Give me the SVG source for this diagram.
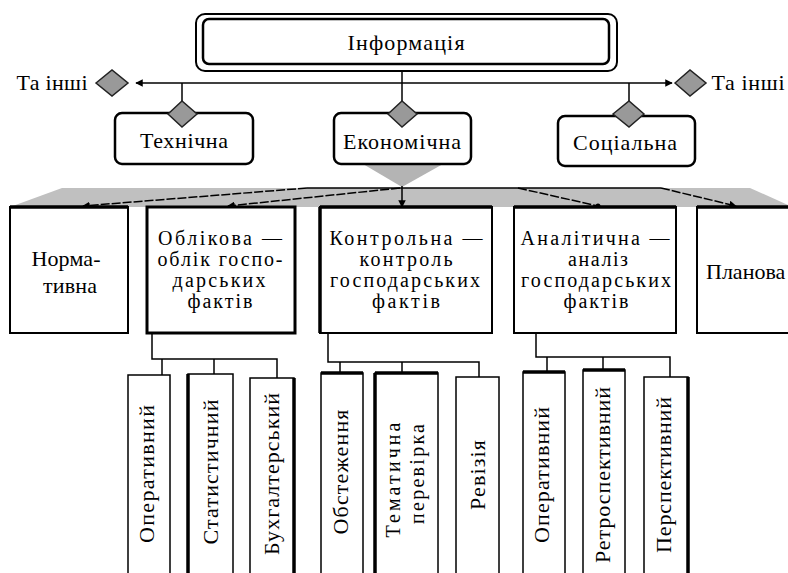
<svg xmlns="http://www.w3.org/2000/svg" width="788" height="573" viewBox="0 0 788 573">
<style>
text{font-family:"Liberation Serif","Times New Roman",serif;font-size:22px;fill:#000;text-anchor:middle;dominant-baseline:central}
text.m{font-size:20px}
.ln{stroke:#000;stroke-width:1.5;fill:none}
.dash{stroke:#000;stroke-width:1.5;fill:none;stroke-dasharray:9 2}
.dia{fill:#999;stroke:#222;stroke-width:1.5}
.rbox{fill:#fff;stroke:#000;stroke-width:2.5}
.box{fill:#fff;stroke:#000;stroke-width:2}
.sbox{fill:#fff;stroke:#000;stroke-width:1.5}
.thick{stroke:#000;stroke-width:3.5;fill:none}
</style>
<defs>
<marker id="ah" viewBox="0 0 10 10" refX="9" refY="5" markerWidth="5" markerHeight="5" orient="auto-start-reverse">
<path d="M0,0 L10,5 L0,10 z" fill="#000"/>
</marker>
</defs>
<rect width="788" height="573" fill="#fff"/>

<polygon points="10,207 62,188 750,188 788,205 788,207" fill="#c0c0c0"/>
<polygon points="363,164 443,164 402,187" fill="#b4b4b4"/>

<g id="connectors">
<line class="ln" x1="402" y1="71" x2="402" y2="101"/>
<line class="ln" x1="402" y1="83" x2="136" y2="83" marker-end="url(#ah)"/>
<line class="ln" x1="402" y1="83" x2="672" y2="83" marker-end="url(#ah)"/>
<line class="ln" x1="182" y1="83" x2="182" y2="101"/>
<line class="ln" x1="629" y1="83" x2="629" y2="101"/>
<line class="ln" x1="307" y1="188" x2="661" y2="188"/>
<line class="ln" x1="402" y1="186" x2="402" y2="207" marker-end="url(#ah)"/>
<line class="dash" x1="307" y1="188" x2="83" y2="206" marker-end="url(#ah)"/>
<line class="dash" x1="400" y1="188" x2="228" y2="206" marker-end="url(#ah)"/>
<line class="dash" x1="518" y1="188" x2="598" y2="206"/>
<circle cx="598" cy="206" r="2.5" fill="#000"/>
<line class="dash" x1="661" y1="188" x2="736" y2="206" marker-end="url(#ah)"/>
<polyline class="ln" points="152,333 152,359 277,359 277,378"/>
<line class="ln" x1="162" y1="359" x2="162" y2="375"/>
<line class="ln" x1="214" y1="359" x2="214" y2="374"/>
<polyline class="ln" points="328,333 328,362 479,362 479,377"/>
<line class="ln" x1="340" y1="362" x2="340" y2="373"/>
<line class="ln" x1="402" y1="362" x2="402" y2="373"/>
<polyline class="ln" points="536,333 536,357 670,357 670,377"/>
<line class="ln" x1="547" y1="357" x2="547" y2="372"/>
<line class="ln" x1="603" y1="357" x2="603" y2="370"/>
</g>

<g id="info">
<rect x="196" y="14" width="421" height="57" rx="9" fill="#fff" stroke="#000" stroke-width="2"/>
<rect x="203" y="19" width="406" height="45" rx="6" fill="#fff" stroke="#000" stroke-width="2.5"/>
<text x="406" y="42" textLength="117">Інформація</text>
</g>

<g id="other-left">
<polygon class="dia" points="96,83 112,70 128,83 112,96"/>
<text x="52" y="82" textLength="71">Та інші</text>
</g>
<g id="other-right">
<polygon class="dia" points="675,83 690,70 706,83 690,96"/>
<text x="748" y="82" textLength="73">Та інші</text>
</g>

<g id="technical">
<rect class="rbox" x="115" y="113" width="138" height="51" rx="7"/>
<polygon class="dia" points="168,114 182,101 197,114 182,127"/>
<text x="184" y="140" textLength="88">Технічна</text>
</g>
<g id="economic">
<rect class="rbox" x="334" y="113" width="137" height="51" rx="7"/>
<polygon class="dia" points="388,114 402,101 417,114 402,127"/>
<text x="402" y="141" textLength="118">Економічна</text>
</g>
<g id="social">
<rect class="rbox" x="558" y="116" width="137" height="50" rx="7"/>
<polygon class="dia" points="613,114 629,101 644,114 629,127"/>
<text x="625" y="142" textLength="104">Соціальна</text>
</g>

<g id="normative">
<rect class="box" x="10" y="207" width="118" height="126"/>
<line class="thick" x1="10" y1="207" x2="128" y2="207"/>
<text x="66" y="258" textLength="69">Норма-</text>
<text x="70" y="285" textLength="54">тивна</text>
</g>
<g id="accounting">
<rect x="147" y="207" width="148" height="126" fill="#fff" stroke="#000" stroke-width="3"/>
<text class="m" x="220" y="238" textLength="124">Облікова —</text>
<text class="m" x="220" y="259" textLength="125">облік госпо-</text>
<text class="m" x="219" y="280" textLength="93">дарських</text>
<text class="m" x="220" y="301" textLength="65">фактів</text>
</g>
<g id="control">
<rect class="box" x="320" y="207" width="172" height="126"/>
<line class="thick" x1="320" y1="207" x2="492" y2="207"/>
<line class="thick" x1="320" y1="207" x2="320" y2="333"/>
<text class="m" x="406" y="238" textLength="153">Контрольна —</text>
<text class="m" x="406" y="259" textLength="93">контроль</text>
<text class="m" x="405" y="280" textLength="150">господарських</text>
<text class="m" x="406" y="301" textLength="68">фактів</text>
</g>
<g id="analytic">
<rect class="box" x="514" y="207" width="162" height="126"/>
<line class="thick" x1="514" y1="207" x2="676" y2="207"/>
<text class="m" x="595" y="238" textLength="149">Аналітична —</text>
<text class="m" x="598" y="259" textLength="60">аналіз</text>
<text class="m" x="596" y="280" textLength="150">господарських</text>
<text class="m" x="596" y="301" textLength="65">фактів</text>
</g>
<g id="planning">
<rect class="box" x="697" y="207" width="100" height="126"/>
<line class="thick" x1="697" y1="207" x2="790" y2="207"/>
<text x="706" y="271" style="text-anchor:start">Планова</text>
</g>

<g id="operative1">
<rect class="sbox" x="128" y="375" width="42" height="210"/>
<text x="146" y="474" textLength="138" transform="rotate(-90 146 474)">Оперативний</text>
</g>
<g id="statistical">
<rect class="sbox" x="188" y="374" width="45" height="210"/>
<line class="thick" x1="188" y1="374" x2="188" y2="580"/>
<text x="210" y="472" textLength="145" transform="rotate(-90 210 472)">Статистичний</text>
</g>
<g id="bookkeeping">
<rect class="sbox" x="250" y="378" width="44" height="210"/>
<line class="thick" x1="294" y1="378" x2="294" y2="580"/>
<text x="271" y="474" textLength="162" transform="rotate(-90 271 474)">Бухгалтерський</text>
</g>
<g id="survey">
<rect class="sbox" x="321" y="373" width="42" height="210"/>
<line class="thick" x1="321" y1="373" x2="363" y2="373"/>
<text x="340" y="472" textLength="125" transform="rotate(-90 340 472)">Обстеження</text>
</g>
<g id="thematic">
<rect class="sbox" x="375" y="373" width="63" height="210"/>
<line class="thick" x1="375" y1="373" x2="438" y2="373"/>
<line class="thick" x1="375" y1="373" x2="375" y2="580"/>
<text class="m" x="393" y="480" textLength="115" transform="rotate(-90 393 480)">Тематична</text>
<text class="m" x="417" y="474" textLength="100" transform="rotate(-90 417 474)">перевірка</text>
</g>
<g id="revision">
<rect class="sbox" x="456" y="377" width="43" height="210"/>
<text x="477" y="475" textLength="70" transform="rotate(-90 477 475)">Ревізія</text>
</g>
<g id="operative2">
<rect class="sbox" x="523" y="372" width="42" height="210"/>
<line class="thick" x1="523" y1="372" x2="565" y2="372"/>
<text x="541" y="475" textLength="136" transform="rotate(-90 541 475)">Оперативний</text>
</g>
<g id="retrospective">
<rect class="sbox" x="583" y="370" width="42" height="210"/>
<line class="thick" x1="583" y1="370" x2="625" y2="370"/>
<text x="602" y="475" textLength="176" transform="rotate(-90 602 475)">Ретроспективний</text>
</g>
<g id="perspective">
<rect class="sbox" x="644" y="377" width="44" height="210"/>
<line class="thick" x1="688" y1="377" x2="688" y2="580"/>
<text x="663" y="475" textLength="156" transform="rotate(-90 663 475)">Перспективний</text>
</g>
</svg>
